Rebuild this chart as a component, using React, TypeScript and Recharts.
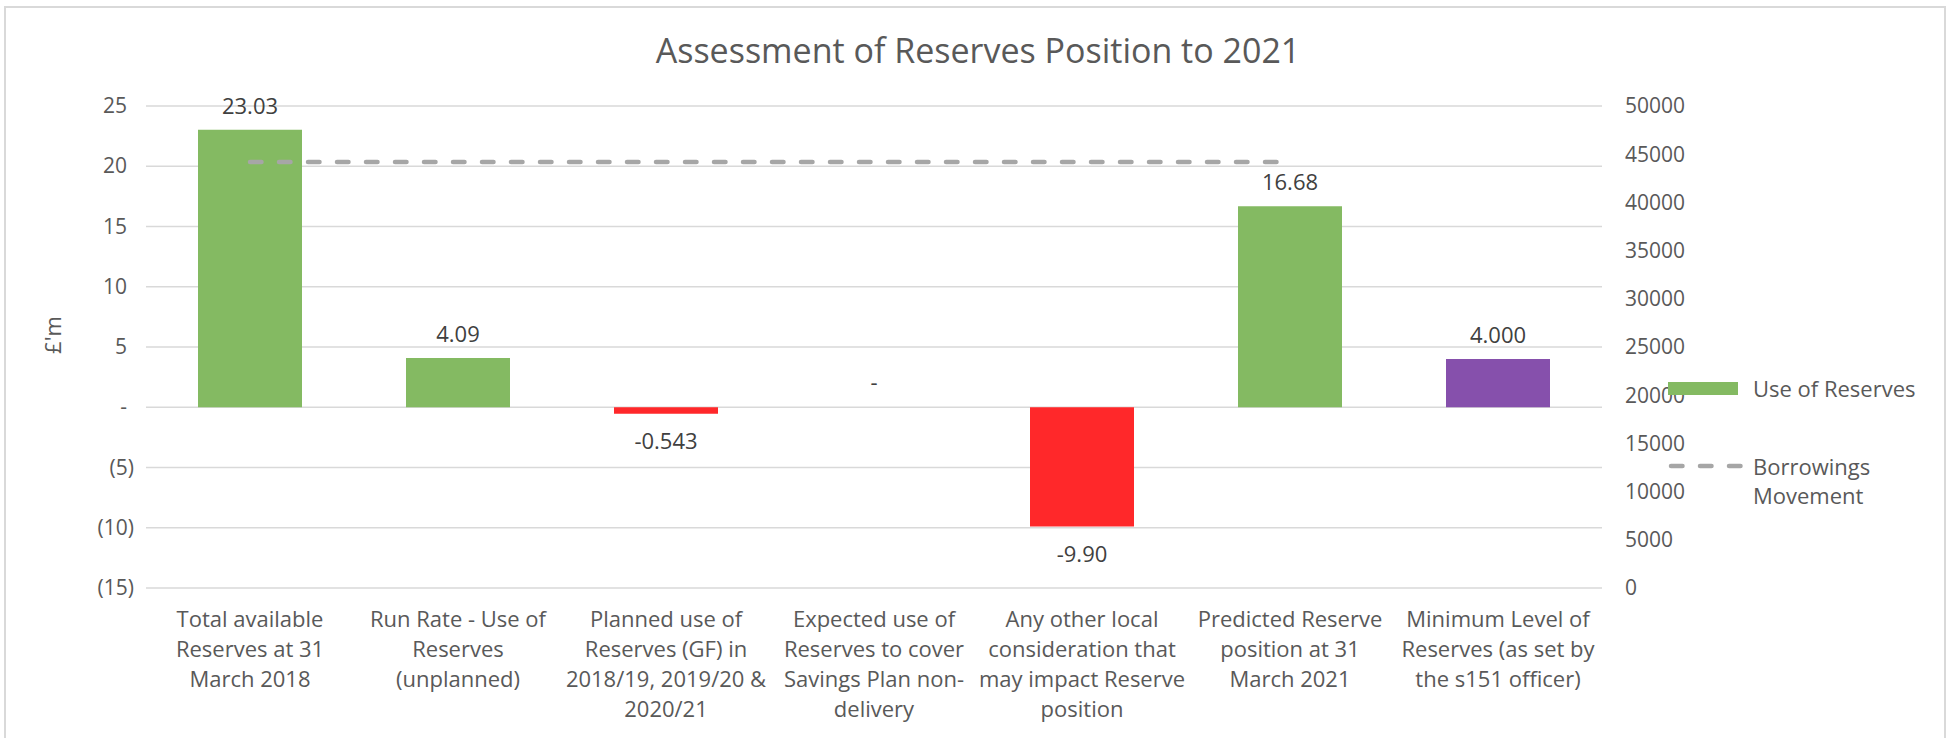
import React from 'react'
import {
  ComposedChart,
  Bar,
  Line,
  XAxis,
  YAxis,
  CartesianGrid,
  Cell,
  LabelList,
  Legend,
} from 'recharts'

const categories = [
  'Total available\nReserves at 31\nMarch 2018',
  'Run Rate - Use of\nReserves\n(unplanned)',
  'Planned use of\nReserves (GF) in\n2018/19, 2019/20 &\n2020/21',
  'Expected use of\nReserves to cover\nSavings Plan non-\ndelivery',
  'Any other local\nconsideration that\nmay impact Reserve\nposition',
  'Predicted Reserve\nposition at 31\nMarch 2021',
  'Minimum Level of\nReserves (as set by\nthe s151 officer)',
]
const reserves = [23.03, 4.09, -0.543, 0, -9.9, 16.68, 4.0]
const reserveLabels = ['23.03', '4.09', '-0.543', '-', '-9.90', '16.68', '4.000']
const borrowings = [44200, 44200, 44200, 44200, 44200, 44200, null]
const leftTicks = [-15, -10, -5, 0, 5, 10, 15, 20, 25]
const rightTicks = [0, 5000, 10000, 15000, 20000, 25000, 30000, 35000, 40000, 45000, 50000]

const GREEN = '#84BA62'
const RED = '#FF282A'
const PURPLE = '#8650AC'
const DASH = '#A6A6A6'
const barColors = [GREEN, GREEN, RED, 'none', RED, GREEN, PURPLE]

const data = categories.map((name, i) => ({
  name,
  reserves: reserves[i],
  label: reserveLabels[i],
  borrowings: borrowings[i],
}))

const FONT = '"Open Sans", sans-serif'

function CategoryTick({ x, y, payload }: any) {
  const lines = String(payload.value).split('\n')
  return (
    <text x={x} y={y} textAnchor="middle" fill="#595959" fontSize={22} fontFamily={FONT}>
      {lines.map((l, i) => (
        <tspan key={i} x={x} dy={i === 0 ? 39 : 30}>
          {l}
        </tspan>
      ))}
    </text>
  )
}

// accounting style: 0 -> "-", negatives in brackets
function LeftTick({ x, y, payload }: any) {
  const v = payload.value
  const text = v === 0 ? '-' : v < 0 ? `(${-v})` : String(v)
  const dx = v < 0 ? 0 : -7
  return (
    <text x={x + dx} y={y} dy={7} textAnchor="end" fill="#595959" fontSize={21} fontFamily={FONT}>
      {text}
    </text>
  )
}

function UnitLabel({ viewBox }: any) {
  const cx = (viewBox?.x ?? 0) + 52
  const cy = (viewBox?.y ?? 0) + (viewBox?.height ?? 0) / 2 - 12
  return (
    <text
      x={cx}
      y={cy}
      transform={`rotate(-90 ${cx} ${cy})`}
      textAnchor="middle"
      dominantBaseline="central"
      fill="#595959"
      fontSize={22}
      fontFamily={FONT}
    >
      £'m
    </text>
  )
}

function ValueLabel(props: any) {
  const { x, y, width, height, value } = props
  const text = String(value)
  const top = Math.min(y, y + height)
  const bottom = Math.max(y, y + height)
  const neg = text.startsWith('-') && text.length > 1
  return (
    <text
      x={x + width / 2}
      y={neg ? bottom + 35 : top - 16}
      textAnchor="middle"
      fill="#404040"
      fontSize={22}
      fontFamily={FONT}
    >
      {text}
    </text>
  )
}

function LegendContent({ payload }: any) {
  const items = payload || []
  const bar = items.find((p: any) => p.dataKey === 'reserves')
  const line = items.find((p: any) => p.dataKey === 'borrowings')
  return (
    <div style={{ position: 'relative', width: 290, height: 160, fontFamily: FONT, fontSize: 22, color: '#595959' }}>
      <svg width={90} height={140} style={{ position: 'absolute', left: 0, top: 0 }}>
        <rect x={8} y={22} width={70} height={13} fill={GREEN} />
        <line
          x1={11}
          x2={82}
          y1={106}
          y2={106}
          stroke={DASH}
          strokeWidth={4.5}
          strokeDasharray="11.5 17.5"
          strokeLinecap="round"
        />
      </svg>
      <div style={{ position: 'absolute', left: 93, top: 14, lineHeight: '29px', whiteSpace: 'nowrap' }}>
        {bar?.value ?? 'Use of Reserves'}
      </div>
      <div style={{ position: 'absolute', left: 93, top: 92, lineHeight: '29px', width: 180 }}>
        {line?.value ?? 'Borrowings Movement'}
      </div>
    </div>
  )
}

export default function App() {
  return (
    <div
      style={{
        position: 'absolute',
        left: 0,
        top: 0,
        width: 1952,
        height: 738,
        background: '#fff',
        overflow: 'hidden',
        fontFamily: FONT,
      }}
    >
      <div
        style={{
          position: 'absolute',
          left: 4,
          top: 6,
          width: 1938,
          height: 760,
          border: '2px solid #D9D9D9',
        }}
      />
      <div
        style={{
          position: 'absolute',
          left: 0,
          top: 27,
          width: 1956,
          textAlign: 'center',
          fontSize: 34,
          color: '#595959',
          whiteSpace: 'nowrap',
        }}
      >
        Assessment of Reserves Position to 2021
      </div>
      <ComposedChart
        width={1952}
        height={738}
        data={data}
        margin={{ top: 106, right: 0, bottom: 0, left: 0 }}
        barCategoryGap="25%"
      >
        <CartesianGrid yAxisId="left" vertical={false} stroke="#D9D9D9" strokeWidth={1.5} />
        <XAxis
          dataKey="name"
          interval={0}
          height={150}
          tickSize={0}
          tickMargin={0}
          axisLine={false}
          tickLine={false}
          tick={<CategoryTick />}
        />
        <YAxis
          yAxisId="left"
          width={146}
          domain={[-15, 25]}
          ticks={leftTicks}
          interval={0}
          tickSize={0}
          tickMargin={12}
          axisLine={false}
          tickLine={false}
          tick={<LeftTick />}
          label={<UnitLabel />}
        />
        <YAxis
          yAxisId="right"
          orientation="right"
          width={350}
          domain={[0, 50000]}
          ticks={rightTicks}
          interval={0}
          tickSize={0}
          tickMargin={23}
          axisLine={false}
          tickLine={false}
          tick={{ fill: '#595959', fontSize: 21, fontFamily: FONT }}
        />
        <Legend
          layout="vertical"
          align="center"
          verticalAlign="middle"
          wrapperStyle={{ left: 1660, top: 360, width: 290 }}
          content={<LegendContent />}
        />
        <Bar
          yAxisId="left"
          dataKey="reserves"
          name="Use of Reserves"
          fill={GREEN}
          minPointSize={(v: number) => (v === 0 ? 1 : 0)}
          isAnimationActive={false}
        >
          {data.map((d, i) => (
            <Cell key={d.name} fill={barColors[i]} />
          ))}
          <LabelList dataKey="label" content={<ValueLabel />} />
        </Bar>
        <Line
          yAxisId="right"
          dataKey="borrowings"
          name="Borrowings Movement"
          stroke={DASH}
          strokeWidth={4.5}
          strokeDasharray="11.5 17.5"
          strokeLinecap="round"
          dot={false}
          activeDot={false}
          isAnimationActive={false}
        />
      </ComposedChart>
    </div>
  )
}
